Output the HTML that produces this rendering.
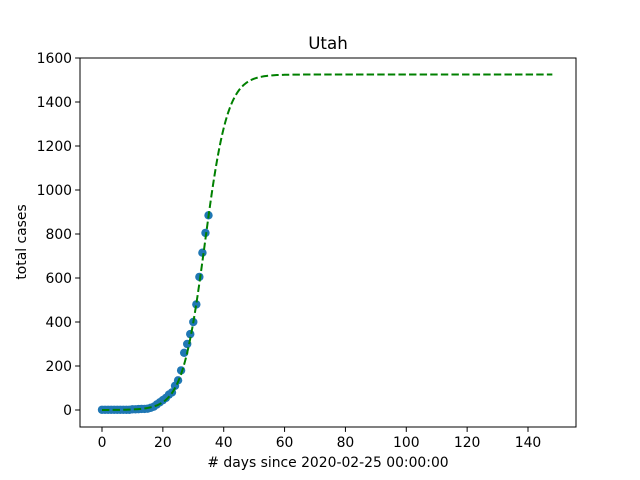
<!DOCTYPE html>
<html><head><meta charset="utf-8"><style>
body{margin:0;background:#fff;}
svg{display:block;font-family:"DejaVu Sans","Liberation Sans",sans-serif;}
</style></head><body>
<svg id="chart" width="640" height="480">
<rect width="640" height="480" fill="#fff"/>
<g id="plot"></g>
</svg>
<script>
const days=[0,1,2,3,4,5,6,7,8,9,10,11,12,13,14,15,16,17,18,19,20,21,22,23,24,25,26,27,28,29,30,31,32,33,34,35];
const cases=[1,1,1,1,1,1,1,1,1,1,3,3,4,5,5,6,10,15,25,35,45,55,70,80,110,135,180,260,300,345,400,480,605,715,805,885];
const fitL=1525, fitK=0.27, fitX0=33.85, fitEnd=148;
const xTicks=[0,20,40,60,80,100,120,140];
const yTicks=[0,200,400,600,800,1000,1200,1400,1600];
const ax={l:80,r:576,t:58,b:427};
const X=v=>102+v*(426/140);
const Y=v=>410-v*(352/1600);
const NS='http://www.w3.org/2000/svg';
const g=document.getElementById('plot');
function mk(t,a,p){const e=document.createElementNS(NS,t);for(const k in a)e.setAttribute(k,a[k]);(p||g).appendChild(e);return e;}
const pts=mk('g',{});


days.forEach((d,i)=>{const c=mk('circle',{cx:X(d),cy:Y(cases[i]),r:4.2,fill:'#1f77b4'},pts);

});
let dp='';
for(let x=0;x<=fitEnd;x+=0.5){const y=fitL/(1+Math.exp(-fitK*(x-fitX0)));dp+=(x?'L':'M')+X(x).toFixed(2)+','+Y(y).toFixed(2);}
const fl=mk('path',{d:dp,fill:'none',stroke:'#008000','stroke-width':2,'stroke-dasharray':'7.4,3.2'});


const fr=mk('rect',{x:ax.l,y:ax.t,width:ax.r-ax.l,height:ax.b-ax.t,fill:'none',stroke:'#000','stroke-width':1});


xTicks.forEach(v=>{mk('line',{x1:X(v),x2:X(v),y1:ax.b,y2:ax.b+4.9,stroke:'#000','stroke-width':1});
const t=mk('text',{x:X(v),y:ax.b+20,'font-size':13.9,'text-anchor':'middle'});t.textContent=v;

});
yTicks.forEach(v=>{mk('line',{x1:ax.l-4.9,x2:ax.l,y1:Y(v),y2:Y(v),stroke:'#000','stroke-width':1});
const t=mk('text',{x:ax.l-8,y:Y(v)+5,'font-size':13.9,'text-anchor':'end'});t.textContent=v;

});
const tt=mk('text',{x:328,y:49,'font-size':16.7,'text-anchor':'middle'});tt.textContent='Utah';


const xl=mk('text',{x:328,y:467,'font-size':13.9,'text-anchor':'middle'});xl.textContent='# days since 2020-02-25 00:00:00';


const yl=mk('text',{x:26,y:242,'font-size':13.9,'text-anchor':'middle',transform:'rotate(-90 26 242)'});yl.textContent='total cases';


</script>
</body></html>
